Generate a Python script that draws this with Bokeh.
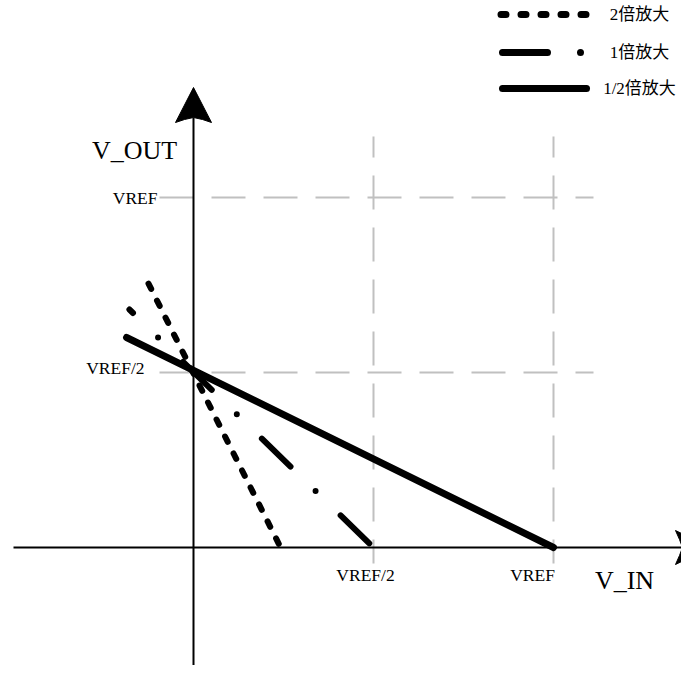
from bokeh.plotting import figure
from bokeh.models import Range1d
from bokeh.core.properties import value
from bokeh.embed import file_html
from bokeh.resources import INLINE

# ---------------- data (VREF = 1) ----------------
series_names = ["2倍放大", "1倍放大", "1/2倍放大"]
series_x = [[-0.125, 0.242], [-0.178, 0.5], [-0.186, 1.0]]
series_y = [[0.754, 0.0], [0.68, 0.0], [0.60, 0.0]]
x_ticks = [0.5, 1.0]
x_tick_labels = ["VREF/2", "VREF"]
y_ticks = [0.5, 1.0]
y_tick_labels = ["VREF/2", "VREF"]
x_title = "V_IN"
y_title = "V_OUT"

# ---------------- layout ----------------
W, H = 681, 665
PX_X, PX_Y = 360.0, 350.0          # pixels per VREF
OX, OY = 193, 547                  # origin inside the figure (px from left / top)


def dx(px):
    return px / PX_X


def dy(px):
    return px / PX_Y


p = figure(width=W, height=H, output_backend="svg", toolbar_location=None,
           x_range=Range1d(-OX / PX_X, (W - OX) / PX_X),
           y_range=Range1d(-(H - OY) / PX_Y, OY / PX_Y),
           x_axis_type=None, y_axis_type=None, min_border=0)
p.grid.visible = False
p.outline_line_color = None
p.background_fill_color = "white"

FONT = value("Liberation Serif")
GRAY = "#c0c0c0"

# ---------------- dashed guide lines ----------------
p.multi_line(xs=[[dx(159 - 193), dx(593 - 193)] for _ in y_ticks],
             ys=[[t, t] for t in y_ticks],
             line_color=GRAY, line_width=2, line_dash="34 18")
p.multi_line(xs=[[t, t] for t in x_ticks],
             ys=[[dy(547 - 136), dy(547 - 563)] for _ in x_ticks],
             line_color=GRAY, line_width=2, line_dash="34 18", line_dash_offset=13)

# ---------------- axes with arrows ----------------
p.line([dx(13 - 193), dx(682 - 193)], [0, 0], line_color="black", line_width=2)
p.line([0, 0], [dy(547 - 700), dy(547 - 117)], line_color="black", line_width=2)

# y arrow head
p.patch([0, dx(18), dx(9), 0, dx(-9), dx(-18)],
        [dy(547 - 87), dy(547 - 122), dy(547 - 119), dy(547 - 117), dy(547 - 119), dy(547 - 122)],
        fill_color="black", line_color="black", line_width=1)
# x arrow head
p.patch([dx(710 - 193), dx(675 - 193), dx(679 - 193), dx(682 - 193), dx(679 - 193), dx(675 - 193)],
        [0, dy(17), dy(8), 0, dy(-8), dy(-17)],
        fill_color="black", line_color="black", line_width=1)

# ---------------- transfer lines ----------------
styles = [
    dict(line_dash="6 13", line_width=6, line_dash_offset=0),
    dict(line_dash="40 35 0 35", line_width=6, line_dash_offset=35),
    dict(line_dash="solid", line_width=7, line_dash_offset=0),
]
for xs, ys, st in zip(series_x, series_y, styles):
    p.line(xs, ys, line_color="black", line_cap="round", **st)

# ---------------- tick labels ----------------
y_label_right = [144 - 193, 157 - 193]
y_label_dy = [5, 0]
p.text(x=[dx(r) for r in y_label_right],
       y=[t + dy(d) for t, d in zip(y_ticks, y_label_dy)],
       text=y_tick_labels, text_font=FONT, text_font_size=value("17.5px"),
       text_align="right", text_baseline="middle", text_color="black")

x_label_dx = [365 - 373, 532 - 553]
p.text(x=[t + dx(d) for t, d in zip(x_ticks, x_label_dx)],
       y=[dy(547 - 574)] * len(x_ticks),
       text=x_tick_labels, text_font=FONT, text_font_size=value("17.5px"),
       text_align="center", text_baseline="middle", text_color="black")

# axis titles
p.text(x=[dx(134 - 193), dx(624 - 193)], y=[dy(547 - 150), dy(547 - 580)],
       text=[y_title, x_title], text_font=FONT, text_font_size=value("26px"),
       text_align="center", text_baseline="middle", text_color="black")

# ---------------- legend ----------------
SHIFT = -18
rows_y = [14, 52, 88]
leg_styles = [
    dict(x0=518.5, x1=604, line_dash="5 15", line_width=7),
    dict(x0=520, x1=601, line_dash="45 33 0 100", line_width=7),
    dict(x0=520, x1=604, line_dash="solid", line_width=7),
]
for ry, st in zip(rows_y, leg_styles):
    st = dict(st)
    x0 = st.pop("x0") + SHIFT
    x1 = st.pop("x1") + SHIFT
    p.line([dx(x0 - 193), dx(x1 - 193)], [dy(547 - ry)] * 2,
           line_color="black", line_cap="round", **st)

p.text(x=[dx(657 + SHIFT - 193)] * 3, y=[dy(547 - ry) for ry in rows_y],
       text=series_names, text_font=value("Liberation Serif, Noto Sans CJK SC"),
       text_font_size=value("17px"), text_align="center", text_baseline="middle",
       text_color="black")

open("out.html", "w").write(file_html(p, INLINE))
